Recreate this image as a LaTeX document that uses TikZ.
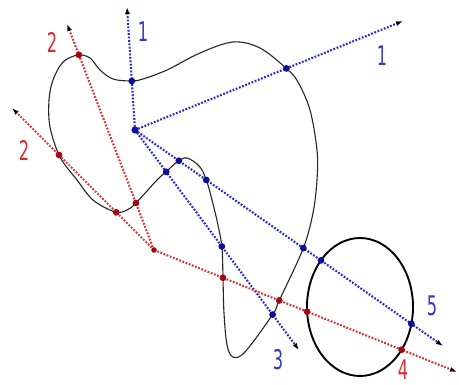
\documentclass[tikz,border=0pt]{standalone}
\usepackage{fontspec}
\newfontfamily\lblfont{DejaVu Sans}
\usetikzlibrary{arrows.meta,intersections}
\definecolor{rayblue}{RGB}{40,40,215}
\definecolor{rayred}{RGB}{225,50,50}
\definecolor{dotblue}{RGB}{15,15,150}
\definecolor{dotred}{RGB}{160,10,20}
\definecolor{txtblue}{RGB}{55,55,195}
\definecolor{txtred}{RGB}{215,45,55}
\newcommand{\narrow}[1]{\scalebox{0.6}[1]{#1}}
\begin{document}
\begin{tikzpicture}[x=1pt,y=-1pt,
  ray/.style={line width=2.1pt, dash pattern=on 1.8pt off 1.6pt, -{Latex[length=7pt,width=5pt,color=black]}},
  bray/.style={ray, draw=rayblue},
  rray/.style={ray, draw=rayred},
  lbl/.style={font=\lblfont\fontsize{27}{27}\selectfont, inner sep=0pt},
  blbl/.style={lbl, text=txtblue},
  rlbl/.style={lbl, text=txtred},
  bdot/.style={fill=dotblue},
  rdot/.style={fill=dotred}]
\useasboundingbox (0,0) rectangle (459,385);

% sources and ray ends
\coordinate (B0) at (135,130);
\coordinate (B1) at (127,7);
\coordinate (B2) at (403,21);
\coordinate (B3) at (299,350);
\coordinate (B5) at (443,346);
\coordinate (R0) at (154,250);
\coordinate (R2a) at (67,24);
\coordinate (R2b) at (12,108);
\coordinate (R4) at (457,372);

% shapes
\draw[name path=shape, line width=1.1pt, black!85]
  plot[smooth cycle, tension=0.55] coordinates {
  (78,55) (63,62) (53,80) (49,100) (50,127) (60,157) (77,180) (93,200)
  (115,212) (127,210) (136,203) (157,180) (166,172) (177,162) (187,158)
  (200,167) (207,182) (212,200) (218,225) (222,248) (223,279) (224,313)
  (227,345) (233,357) (245,352) (273,314) (279,301) (303,249) (313,213)
  (317,180) (317,150) (310,110) (298,82) (287,69) (260,48) (233,42)
  (200,53) (167,70) (143,79) (131,81) (113,79) (100,70) (90,58)};
\draw[name path=ell, line width=1.9pt] (360,307) ellipse [x radius=53, y radius=69];

% rays
\draw[bray, name path=b1] (B0) -- (B1);
\draw[bray, name path=b2] (B0) -- (B2);
\draw[bray, name path=b3] (B0) -- (B3);
\draw[bray, name path=b5] (B0) -- (B5);
\draw[rray, name path=r2a] (R0) -- (R2a);
\draw[rray, name path=r2b] (R0) -- (R2b);
\draw[rray, name path=r4] (R0) -- (R4);

% intersection dots
\fill[bdot, name intersections={of=shape and b1, name=i, total=\t}] \foreach \s in {1,...,\t}{(i-\s) circle (3.4)};
\fill[bdot, name intersections={of=shape and b2, name=i, total=\t}] \foreach \s in {1,...,\t}{(i-\s) circle (3.4)};
\fill[bdot, name intersections={of=shape and b3, name=i, total=\t}] \foreach \s in {1,...,\t}{(i-\s) circle (3.4)};
\fill[bdot, name intersections={of=shape and b5, name=i, total=\t}] \foreach \s in {1,...,\t}{(i-\s) circle (3.4)};
\fill[bdot, name intersections={of=ell and b5, name=i, total=\t}] \foreach \s in {1,...,\t}{(i-\s) circle (3.4)};
\fill[rdot, name intersections={of=shape and r2a, name=i, total=\t}] \foreach \s in {1,...,\t}{(i-\s) circle (3.4)};
\fill[rdot, name intersections={of=shape and r2b, name=i, total=\t}] \foreach \s in {1,...,\t}{(i-\s) circle (3.4)};
\fill[rdot, name intersections={of=shape and r4, name=i, total=\t}] \foreach \s in {1,...,\t}{(i-\s) circle (3.4)};
\fill[rdot, name intersections={of=ell and r4, name=i, total=\t}] \foreach \s in {1,...,\t}{(i-\s) circle (3.4)};
\fill[bdot] (B0) circle (3.6);
\fill[rdot] (R0) circle (2.8);

% labels
\node[blbl] (l1a) at (143,32) {\narrow{1}};
\node[blbl] (l1b) at (382,56) {\narrow{1}};
\node[rlbl] (l2a) at (52,42) {\narrow{2}};
\node[rlbl] (l2b) at (24,150) {\narrow{2}};
\node[blbl] (l3) at (278,360) {\narrow{3}};
\node[rlbl] (l4) at (403,370) {\narrow{4}};
\node[blbl] (l5) at (432,306) {\narrow{5}};
\end{tikzpicture}
\end{document}
